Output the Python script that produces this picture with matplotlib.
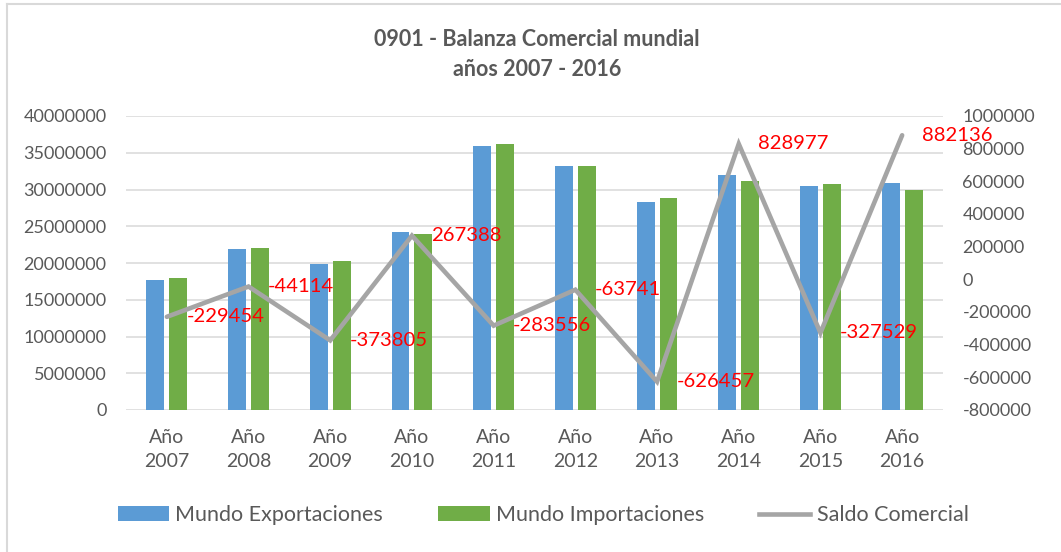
import numpy as np
import matplotlib
matplotlib.use("Agg")
import matplotlib.pyplot as plt
from matplotlib.lines import Line2D
from matplotlib.patches import Patch

# Data
years = ["2007", "2008", "2009", "2010", "2011", "2012", "2013", "2014", "2015", "2016"]
exportaciones = [17750000, 21950000, 19850000, 24200000, 35950000,
                 33150000, 28250000, 31920000, 30450000, 30830000]
importaciones = [17979454, 21994114, 20223805, 23932612, 36233556,
                 33213741, 28876457, 31091023, 30777529, 29947864]
saldo = [-229454, -44114, -373805, 267388, -283556,
         -63741, -626457, 828977, -327529, 882136]

title_1 = "0901 - Balanza Comercial mundial"
title_2 = "años 2007 - 2016"

BLUE = "#5B9BD5"
GREEN = "#70AD47"
GRAY = "#A5A5A5"
TEXT = "#595959"
GRID = "#D9D9D9"

plt.rcParams["font.family"] = ["Lato", "DejaVu Sans"]

W, H = 1061, 552
fig = plt.figure(figsize=(W / 100, H / 100), dpi=100)
fig.patch.set_facecolor("white")

left, right, top, bottom = 126, 943, 116, 410
ax = fig.add_axes([left / W, 1 - bottom / H, (right - left) / W, (bottom - top) / H])
ax2 = ax.twinx()

x = np.arange(len(years))
ax.bar(x - 0.14, exportaciones, width=0.22, color=BLUE, zorder=2)
ax.bar(x + 0.14, importaciones, width=0.22, color=GREEN, zorder=2)

ax.set_xlim(-0.5, len(years) - 0.5)
ax.set_ylim(0, 40000000)
ax.set_yticks(np.arange(0, 40000001, 5000000))
ax.yaxis.set_major_formatter(matplotlib.ticker.FuncFormatter(lambda v, p: f"{int(v)}"))
ax.grid(axis="y", color=GRID, linewidth=1.1, zorder=0)
ax.set_axisbelow(True)
ax.set_xticks(x)
ax.set_xticklabels([f"Año\n{y}" for y in years], linespacing=1.45)

ax2.plot(x, saldo, color=GRAY, linewidth=3.3, solid_capstyle="round",
         solid_joinstyle="miter", zorder=3)
ax2.set_ylim(-800000, 1000000)
ax2.set_yticks(np.arange(-800000, 1000001, 200000))
ax2.yaxis.set_major_formatter(matplotlib.ticker.FuncFormatter(lambda v, p: f"{int(round(v))}"))
for lab in ax2.get_yticklabels():
    lab.set_horizontalalignment("left")

for i, v in enumerate(saldo):
    ax2.annotate(f"{v}", (x[i], v), xytext=(14, 0), textcoords="offset points",
                 va="center", ha="left", color="red", fontsize=14.6, zorder=5)

for a in (ax, ax2):
    for s in a.spines.values():
        s.set_visible(False)
    a.tick_params(length=0, labelsize=13, labelcolor=TEXT)
ax.tick_params(axis="y", pad=14)
ax.tick_params(axis="x", pad=14, labelsize=14)
ax2.tick_params(axis="y", pad=14)

fig.text(537 / W, 1 - 40 / H, title_1, ha="center", va="center",
         fontsize=15.5, fontweight="bold", color=TEXT)
fig.text(537 / W, 1 - 69 / H, title_2, ha="center", va="center",
         fontsize=15.5, fontweight="bold", color=TEXT)

handles = [Patch(facecolor=BLUE), Patch(facecolor=GREEN),
           Line2D([0], [0], color=GRAY, linewidth=3.3)]
labels = ["Mundo Exportaciones", "Mundo Importaciones", "Saldo Comercial"]
leg = fig.legend(handles, labels, loc="center", bbox_to_anchor=(543 / W, 1 - 515 / H),
                 ncol=3, frameon=False, fontsize=15.5, handlelength=2.4,
                 handleheight=0.65, handletextpad=0.28, columnspacing=2.55,
                 borderaxespad=0, borderpad=0)
for t in leg.get_texts():
    t.set_color(TEXT)

# Chart frame (left and top edges)
fig.add_artist(Line2D([6.5 / W, 6.5 / W], [0, 1 - 4 / H], color=GRID, linewidth=1.5,
                      transform=fig.transFigure))
fig.add_artist(Line2D([6.5 / W, 1], [1 - 4 / H, 1 - 4 / H], color=GRID, linewidth=1.5,
                      transform=fig.transFigure))

fig.savefig("out.png", dpi=100, facecolor="white")
